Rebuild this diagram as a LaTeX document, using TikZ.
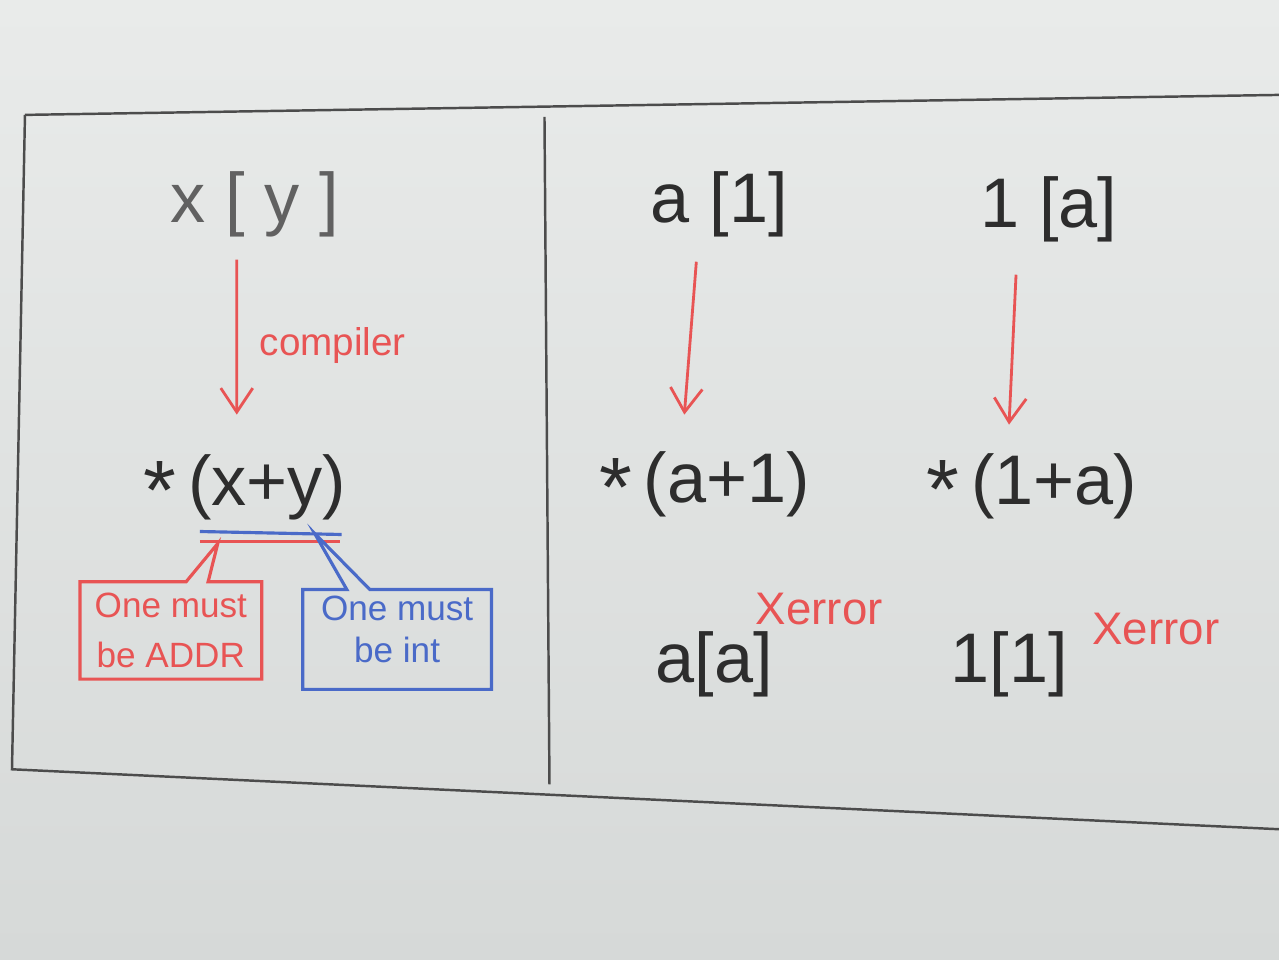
\documentclass[tikz,border=0pt]{standalone}
\usepackage{fontspec}
\setmainfont{Liberation Sans}
\usetikzlibrary{arrows.meta,shapes.callouts}
\definecolor{board}{RGB}{233,235,234}
\definecolor{boardlow}{RGB}{214,217,216}
\definecolor{ink}{RGB}{45,45,45}
\definecolor{mred}{RGB}{232,84,84}
\definecolor{mblue}{RGB}{74,106,200}
\tikzset{
  expr/.style={font=\fontsize{20}{24}\selectfont, text=ink, inner sep=1pt},
  note/.style={font=\fontsize{10}{14}\selectfont, align=center, line width=0.9pt},
  frame/.style={draw=ink!85, line width=0.7pt},
  penarrow/.style={draw=mred, line width=0.8pt, -{Straight Barb[length=2.4mm,width=3.2mm]}},
  errmark/.style={font=\fontsize{13}{16}\selectfont, text=mred},
}
\newcommand{\deref}{\raisebox{-0.2em}{\fontsize{24}{24}\selectfont *}}
\begin{document}
\begin{tikzpicture}
  \fill[top color=board, bottom color=boardlow] (0,0) rectangle (12.8,9.6);
  % board frame
  \draw[frame] (0.25,8.45) -- (12.8,8.65);
  \draw[frame] (0.25,8.45) -- (0.12,1.9) -- (12.8,1.3);
  \draw[frame] (5.45,8.43) -- (5.5,1.75);

  % left half
  \node[expr, text=ink!75] (xy) at (2.55,7.55) {x [ y ]};
  \node[expr] (deref) at (2.45,4.72) {\deref\,(x+y)};
  \draw[penarrow] ([xshift=-1.8mm,yshift=-1.8mm]xy.south) -- ([xshift=-0.8mm,yshift=3.6mm]deref.north)
    node[midway, right=1mm, yshift=-0.8mm, font=\fontsize{11}{13}\selectfont, text=mred] {compiler};

  \coordinate (bl) at (2.0,4.28);
  \coordinate (br) at (3.42,4.25);
  \coordinate (rl) at (2.0,4.18);
  \coordinate (rr) at (3.4,4.18);
  \draw[draw=mblue, line width=0.9pt] (bl) -- (br);
  \draw[draw=mred, line width=1.1pt] (rl) -- (rr);
  \coordinate (rtip) at (2.18,4.16);
  \coordinate (btip) at (3.15,4.26);

  \node[note, rectangle callout, draw=mred, text=mred, minimum width=1.82cm, minimum height=0.97cm,
        callout absolute pointer={(rtip)}, callout pointer width=0.22cm] (addr) at (1.71,3.29) {One must\\be ADDR};
  \node[note, font=\fontsize{10}{12}\selectfont, rectangle callout, draw=mblue, text=mblue,
        minimum width=1.89cm, minimum height=1.0cm, inner ysep=0pt, text depth=0.2cm,
        callout absolute pointer={(btip)}, callout pointer width=0.23cm] (int) at (3.975,3.2) {One must\\be int};

  % right half
  \node[expr] (a1) at (7.2,7.55) {a [1]};
  \node[expr] (1a) at (10.5,7.5) {1 [a]};
  \node[expr] (defa) at (7.05,4.75) {\deref\,(a+1)};
  \node[expr] (def1) at (10.33,4.73) {\deref\,(1+a)};
  \draw[penarrow] ([xshift=-2.3mm,yshift=-2mm]a1.south) -- ([xshift=-2mm,yshift=3.3mm]defa.north);
  \draw[penarrow] ([xshift=-3.3mm,yshift=-2.8mm]1a.south) -- ([xshift=-2.3mm,yshift=2.5mm]def1.north);

  \node[expr] (aa) at (7.15,2.95) {a[a]};
  \node[expr] (11) at (10.1,2.95) {1[1]};
  \node[errmark] (erra) at (8.2,3.5) {Xerror};
  \node[errmark] (err1) at (11.57,3.3) {Xerror};
\end{tikzpicture}
\end{document}
